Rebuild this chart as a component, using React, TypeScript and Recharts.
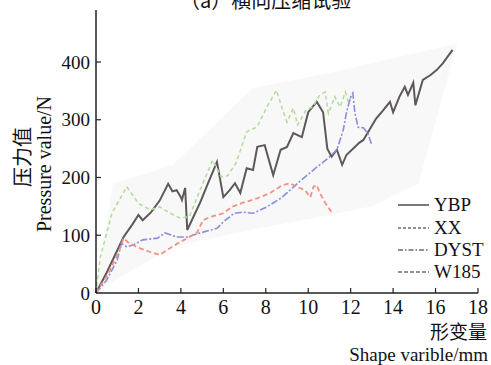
import { Area, ComposedChart, Line, XAxis, YAxis } from "recharts";

// Lateral compression test: pressure vs deformation for four samples.

const xTicks = [0, 2, 4, 6, 8, 10, 12, 14, 16, 18];
const yTicks = [0, 100, 200, 300, 400];

const ybpX = [0, 0.5, 1.3, 1.7, 2.0, 2.2, 2.6, 3.0, 3.4, 3.6, 3.8, 4.0, 4.05, 4.2, 4.3, 4.9, 5.3, 5.7, 6.0, 6.3, 6.55, 6.8, 7.1, 7.4, 7.6, 7.95, 8.35, 8.7, 9.0, 9.3, 9.7, 10.0, 10.4, 10.7, 10.9, 11.1, 11.35, 11.6, 11.8, 12.4, 12.6, 13.2, 13.5, 13.85, 14.0, 14.3, 14.55, 14.7, 14.95, 15.05, 15.4, 15.75, 16.05, 16.35, 16.8];
const ybpY = [0, 35, 97, 118, 135, 126, 140, 160, 189, 176, 178, 166, 161, 182, 109, 156, 192, 227, 166, 178, 190, 173, 216, 213, 253, 256, 204, 248, 253, 277, 270, 313, 331, 313, 250, 236, 248, 222, 239, 260, 265, 302, 315, 331, 313, 340, 357, 343, 364, 325, 369, 377, 386, 398, 421];

const xxX = [0, 0.2, 0.75, 1.1, 1.45, 2.0, 2.55, 3.0, 3.5, 3.95, 4.4, 4.9, 5.5, 5.9, 6.2, 6.6, 7.1, 7.6, 8.05, 8.5, 8.8, 9.0, 9.3, 9.5, 9.9, 10.2, 10.55, 10.8, 10.95, 11.1, 11.25, 11.5, 11.75, 11.9, 12.1];
const xxY = [0, 62, 138, 161, 184, 155, 144, 149, 138, 130, 132, 178, 230, 201, 203, 225, 279, 288, 322, 351, 317, 296, 320, 291, 317, 322, 343, 348, 311, 325, 340, 322, 348, 330, 345];

const dystX = [0, 0.5, 1.0, 1.2, 1.45, 1.75, 2.2, 2.9, 3.25, 3.8, 4.3, 4.9, 5.7, 6.0, 6.5, 6.9, 7.4, 8.05, 8.7, 9.05, 9.5, 10.4, 10.9, 11.35, 11.65, 11.8, 12.0, 12.1, 12.2, 12.35, 12.6, 12.8, 13.0];
const dystY = [0, 22, 57, 86, 80, 83, 92, 95, 104, 97, 97, 104, 112, 123, 138, 140, 138, 149, 164, 175, 190, 218, 232, 248, 282, 312, 340, 346, 312, 287, 286, 277, 256];

const w185X = [0, 0.6, 1.1, 1.3, 1.5, 1.9, 2.55, 3.0, 3.5, 3.95, 4.4, 4.75, 5.05, 5.4, 6.0, 6.4, 6.9, 7.6, 8.2, 8.8, 9.15, 9.45, 9.85, 10.1, 10.25, 10.4, 10.55, 10.8, 11.1];
const w185Y = [0, 35, 74, 95, 88, 80, 71, 66, 78, 88, 97, 104, 126, 132, 138, 149, 156, 164, 173, 187, 190, 184, 178, 166, 184, 187, 173, 156, 140];

// faint grey envelope behind the curves
const bandX = [0, 0.8, 3.6, 7.4, 11, 13, 15.2, 17];
const bandLow = [0, 20, 80, 110, 135, 150, 190, 430];
const bandHigh = [0, 190, 221, 355, 381, 398, 417, 432];

const toPoints = (xs: number[], ys: number[]) => xs.map((x, i) => ({ x, y: ys[i] }));

const series = [
  { name: "YBP", data: toPoints(ybpX, ybpY), color: "#5e5858", dash: undefined, width: 2 },
  { name: "XX", data: toPoints(xxX, xxY), color: "#b4dc9c", dash: "4 3", width: 1.6 },
  { name: "DYST", data: toPoints(dystX, dystY), color: "#8a8ed8", dash: "7 2 2 2", width: 1.6 },
  { name: "W185", data: toPoints(w185X, w185Y), color: "#f09284", dash: "5 3", width: 1.8 },
];

const bandData = bandX.map((x, i) => ({ x, range: [bandLow[i], bandHigh[i]] }));

const serif = "Liberation Serif, DejaVu Serif, serif";
const cjk = "Noto Sans CJK SC, sans-serif";
const axisColor = "#222";

const XTick = ({ x, y, payload }: any) => (
  <g>
    <line x1={x} x2={x} y1={y} y2={y - 5} stroke={axisColor} strokeWidth={1.2} />
    <text x={x} y={y + 21} textAnchor="middle" style={{ fontFamily: serif }} fontSize={20} fill="#111">
      {payload.value}
    </text>
  </g>
);

const YTick = ({ x, y, payload }: any) => (
  <g>
    {payload.value !== 0 && (
      <line x1={x} x2={x + 5} y1={y} y2={y} stroke={axisColor} strokeWidth={1.2} />
    )}
    <text x={x - 6} y={y} dy="0.35em" textAnchor="end" style={{ fontFamily: serif }} fontSize={19} fill="#111">
      {payload.value}
    </text>
  </g>
);

const legendRows = [
  { name: "YBP", dash: undefined, top: 205 },
  { name: "XX", dash: "3 2", top: 228 },
  { name: "DYST", dash: "5 2 1.5 2", top: 250 },
  { name: "W185", dash: "4 2", top: 272 },
];

export default function App() {
  return (
    <div style={{ position: "relative", width: 491, height: 365, background: "#fff", overflow: "hidden" }}>
      <style>{`body{margin:0}`}</style>
      <div
        style={{
          position: "absolute",
          left: 180,
          top: -12,
          fontFamily: cjk,
          fontSize: 20,
          lineHeight: "24px",
          color: "#111",
          whiteSpace: "nowrap",
        }}
      >
        （a）横向压缩试验
      </div>
      <ComposedChart
        width={491}
        height={365}
        margin={{ top: 10, right: 13, left: 36, bottom: 42 }}
        style={{ position: "absolute", left: 0, top: 0 }}
      >
        <XAxis
          type="number"
          dataKey="x"
          domain={[0, 18]}
          ticks={xTicks}
          height={30}
          tickSize={0}
          tickMargin={0}
          tickLine={false}
          tick={XTick}
          axisLine={{ stroke: axisColor, strokeWidth: 1.5 }}
          allowDuplicatedCategory={false}
        />
        <YAxis
          type="number"
          domain={[0, 490]}
          ticks={yTicks}
          width={60}
          tickSize={0}
          tickMargin={0}
          tickLine={false}
          tick={YTick}
          axisLine={{ stroke: axisColor, strokeWidth: 1.5 }}
        />
        <Area
          data={bandData}
          dataKey="range"
          type="linear"
          stroke="none"
          fill="#f8f8f8"
          fillOpacity={1}
          isAnimationActive={false}
        />
        {series.map(s => (
          <Line
            key={s.name}
            data={s.data}
            dataKey="y"
            name={s.name}
            type="linear"
            stroke={s.color}
            strokeWidth={s.width}
            strokeDasharray={s.dash}
            dot={false}
            isAnimationActive={false}
          />
        ))}
      </ComposedChart>

      <div
        style={{
          position: "absolute",
          left: 22,
          top: 157,
          transform: "translate(-50%, -50%) rotate(-90deg)",
          fontFamily: cjk,
          fontSize: 20,
          lineHeight: "22px",
          whiteSpace: "nowrap",
          color: "#111",
        }}
      >
        压力值
      </div>
      <div
        style={{
          position: "absolute",
          left: 44,
          top: 164,
          transform: "translate(-50%, -50%) rotate(-90deg)",
          fontFamily: serif,
          fontSize: 20,
          whiteSpace: "nowrap",
          color: "#111",
          lineHeight: "20px",
        }}
      >
        Pressure value/N
      </div>
      <div
        style={{
          position: "absolute",
          right: 4,
          top: 321,
          fontFamily: cjk,
          fontSize: 19,
          lineHeight: "19px",
          color: "#111",
        }}
      >
        形变量
      </div>
      <div
        style={{
          position: "absolute",
          right: 3,
          top: 346,
          fontFamily: serif,
          fontSize: 19,
          lineHeight: "18px",
          color: "#111",
          whiteSpace: "nowrap",
        }}
      >
        Shape varible/mm
      </div>

      {legendRows.map(r => (
        <div
          key={r.name}
          style={{ position: "absolute", left: 398, top: r.top - 11, height: 22, display: "flex", alignItems: "center" }}
        >
          <svg width={32} height={4} style={{ display: "block" }}>
            <line x1={0} x2={31} y1={2} y2={2} stroke="#222" strokeWidth={1.2} strokeDasharray={r.dash} />
          </svg>
          <span style={{ marginLeft: 4, fontFamily: serif, fontSize: 19, color: "#111", lineHeight: "22px" }}>
            {r.name}
          </span>
        </div>
      ))}
    </div>
  );
}
